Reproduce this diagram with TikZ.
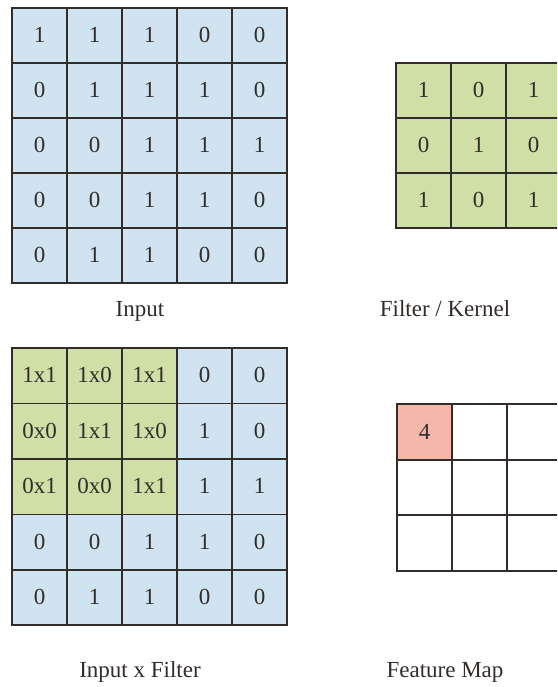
\documentclass[tikz,border=0pt]{standalone}
\usepackage{fontspec}
\setmainfont{Liberation Serif}
\definecolor{cellblue}{RGB}{207,227,241}
\definecolor{cellgreen}{RGB}{207,223,166}
\definecolor{cellred}{RGB}{245,182,172}
\definecolor{gridline}{RGB}{50,45,43}
\definecolor{txt}{RGB}{50,45,42}
\begin{document}
\begin{tikzpicture}[x=1pt,y=-1pt,
  cell/.style={font=\fontsize{23}{23}\selectfont, text=txt, inner sep=0pt},
  caption/.style={font=\fontsize{23}{23}\selectfont, text=txt, inner sep=0pt, anchor=base},
  gl/.style={draw=gridline, line width=1.6pt}]
\useasboundingbox (0,0) rectangle (557,687);
\clip (0,0) rectangle (557,687);
\fill[white] (0,0) rectangle (557,687);

% ---------- Input grid ----------
\fill[cellblue] (12,8) rectangle (287,283);
\foreach \x in {67,122,177,232} \draw[gl] (\x,8) -- (\x,283);
\foreach \y in {63,118,173,228} \draw[gl] (12,\y) -- (287,\y);
\draw[gl, line width=1.9pt] (12,8) rectangle (287,283);
\foreach \row [count=\r] in {{1,1,1,0,0},{0,1,1,1,0},{0,0,1,1,1},{0,0,1,1,0},{0,1,1,0,0}} {
  \foreach \v [count=\c] in \row {
    \node[cell] (in-\r-\c) at ({39.5+55*(\c-1)},{35+55*(\r-1)}) {\v};
  }
}
\node[caption] (inputlabel) at (140,316) {Input};

% ---------- Filter grid ----------
\fill[cellgreen] (396,63) rectangle (561,228);
\foreach \x in {451,506} \draw[gl] (\x,63) -- (\x,228);
\foreach \y in {118,173} \draw[gl] (396,\y) -- (561,\y);
\draw[gl, line width=1.9pt] (396,63) rectangle (561,228);
\foreach \row [count=\r] in {{1,0,1},{0,1,0},{1,0,1}} {
  \foreach \v [count=\c] in \row {
    \node[cell] (k-\r-\c) at ({423.5+55*(\c-1)},{90+55*(\r-1)}) {\v};
  }
}
\node[caption] (filterlabel) at (445,316) {Filter / Kernel};

% ---------- Input x Filter grid ----------
\fill[cellblue] (12,348) rectangle (287,625);
\fill[cellgreen] (12,348) rectangle (177,514.5);
\foreach \x in {67,122,177,232} \draw[gl] (\x,348) -- (\x,625);
\foreach \y in {403.5,459,514.5,570} \draw[gl] (12,\y) -- (287,\y);
\draw[gl, line width=1.9pt] (12,348) rectangle (287,625);
\foreach \row [count=\r] in {{1x1,1x0,1x1,0,0},{0x0,1x1,1x0,1,0},{0x1,0x0,1x1,1,1},{0,0,1,1,0},{0,1,1,0,0}} {
  \foreach \v [count=\c] in \row {
    \node[cell] (ixf-\r-\c) at ({39.5+55*(\c-1)},{375.25+55.5*(\r-1)}) {\v};
  }
}
\node[caption] (ixflabel) at (140,677) {Input x Filter};

% ---------- Feature map ----------
\fill[cellred] (397,404) rectangle (452,460);
\foreach \x in {452,507} \draw[gl] (\x,404) -- (\x,571);
\foreach \y in {460,515} \draw[gl] (397,\y) -- (563,\y);
\draw[gl, line width=1.9pt] (397,404) rectangle (563,571);
\node[cell] (fm-1-1) at (424.5,431.5) {4};
\node[caption] (fmlabel) at (445,677) {Feature Map};
\end{tikzpicture}
\end{document}
